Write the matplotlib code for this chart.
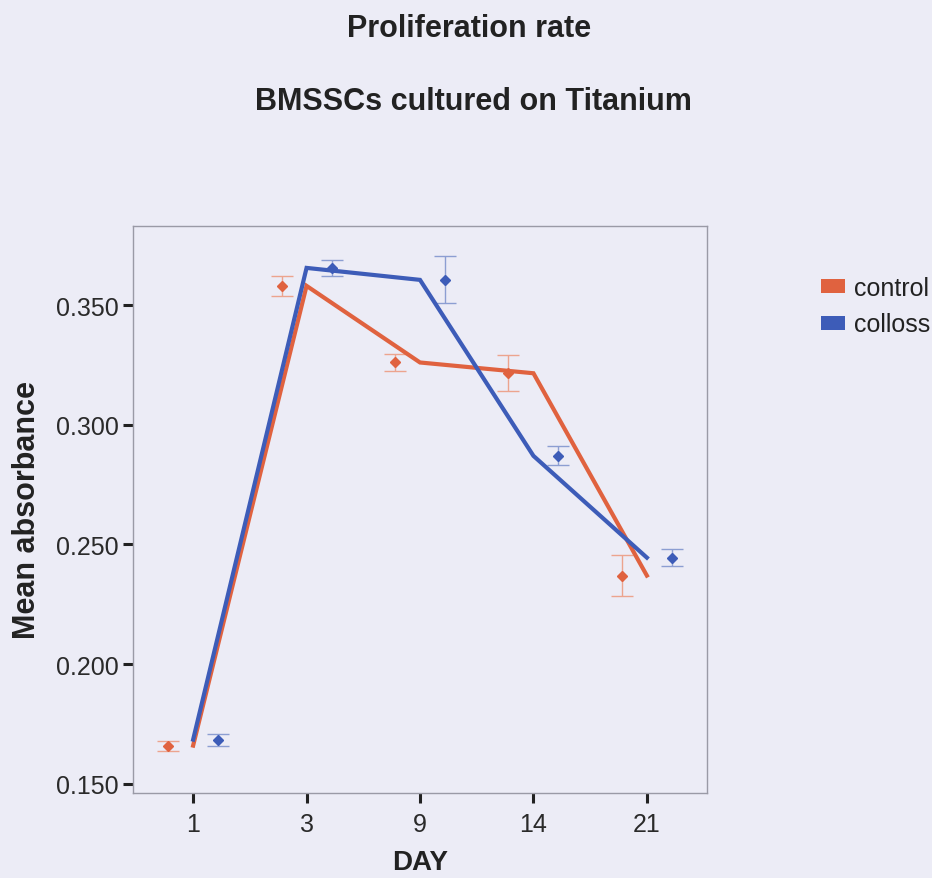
import matplotlib
matplotlib.use("Agg")
import matplotlib.pyplot as plt
from matplotlib.patches import Patch
import numpy as np

plt.rcParams["font.family"] = ["Liberation Sans", "DejaVu Sans"]

# Data: mean absorbance per day with error-bar half widths
days = ["1", "3", "9", "14", "21"]
control_mean = [0.166, 0.358, 0.326, 0.3215, 0.237]
control_err = [0.0021, 0.0041, 0.0037, 0.0075, 0.0085]
colloss_mean = [0.1685, 0.3655, 0.3605, 0.287, 0.2445]
colloss_err = [0.0025, 0.0035, 0.0098, 0.0040, 0.0035]
series_names = ["control", "colloss"]

bg = "#ececf6"
red = "#e0623f"
blue = "#3d5cb8"
red_err = "#eca48e"
blue_err = "#8c9ed2"

fig = plt.figure(figsize=(9.32, 8.79), dpi=100, facecolor=bg)
ax = fig.add_axes([133 / 932, 85 / 879, 574 / 932, 567 / 879], facecolor=bg)

x = np.arange(len(days))
off = 0.22

# Mean lines through category centres
ax.plot(x, control_mean, color=red, lw=3.0, solid_joinstyle="miter", zorder=3)
ax.plot(x, colloss_mean, color=blue, lw=3.0, solid_joinstyle="miter", zorder=4)

# Error bars with diamond markers, dodged either side of each day
ax.errorbar(x - off, control_mean, yerr=control_err, fmt="none", ecolor=red_err,
            elinewidth=1.0, capsize=8, capthick=1.0, zorder=2)
ax.plot(x - off, control_mean, "D", color=red, ms=5.5, mec=red, zorder=5)
ax.errorbar(x + off, colloss_mean, yerr=colloss_err, fmt="none", ecolor=blue_err,
            elinewidth=1.0, capsize=8, capthick=1.0, zorder=2)
ax.plot(x + off, colloss_mean, "D", color=blue, ms=5.5, mec=blue, zorder=5)

ax.set_xlim(-0.53, 4.53)
ax.set_ylim(0.1462, 0.3830)
ax.set_xticks(x)
ax.set_xticklabels(days)
ax.set_yticks([0.150, 0.200, 0.250, 0.300, 0.350])
ax.set_yticklabels(["0.150", "0.200", "0.250", "0.300", "0.350"])

for s in ax.spines.values():
    s.set_color("#9a9aa6")
    s.set_linewidth(1.0)

ax.tick_params(axis="both", direction="out", length=7, width=2.2, color="#222222",
               labelsize=18, labelcolor="#2a2a2a", pad=3)
ax.tick_params(axis="x", pad=7)

ax.set_xlabel("DAY", fontsize=20, fontweight="bold", color="#222222", labelpad=9)
ax.set_ylabel("Mean absorbance", fontsize=22, fontweight="bold", color="#222222",
              labelpad=10)

fig.text(0.503, 1 - 29 / 879, "Proliferation rate", ha="center", va="center",
         fontsize=22, fontweight="bold", color="#222222")
fig.text(0.508, 1 - 102 / 879, "BMSSCs cultured on Titanium", ha="center",
         va="center", fontsize=22, fontweight="bold", color="#222222")

handles = [Patch(facecolor=red, edgecolor="none"), Patch(facecolor=blue, edgecolor="none")]
fig.legend(handles, series_names, loc="upper left",
           bbox_to_anchor=(821 / 932, 1 - 277 / 879), frameon=False,
           fontsize=18, handlelength=0.96, handleheight=0.48, handletextpad=0.35,
           labelspacing=0.5, borderpad=0, borderaxespad=0, labelcolor="#222222")

fig.savefig("out.png", dpi=100, facecolor=bg)
